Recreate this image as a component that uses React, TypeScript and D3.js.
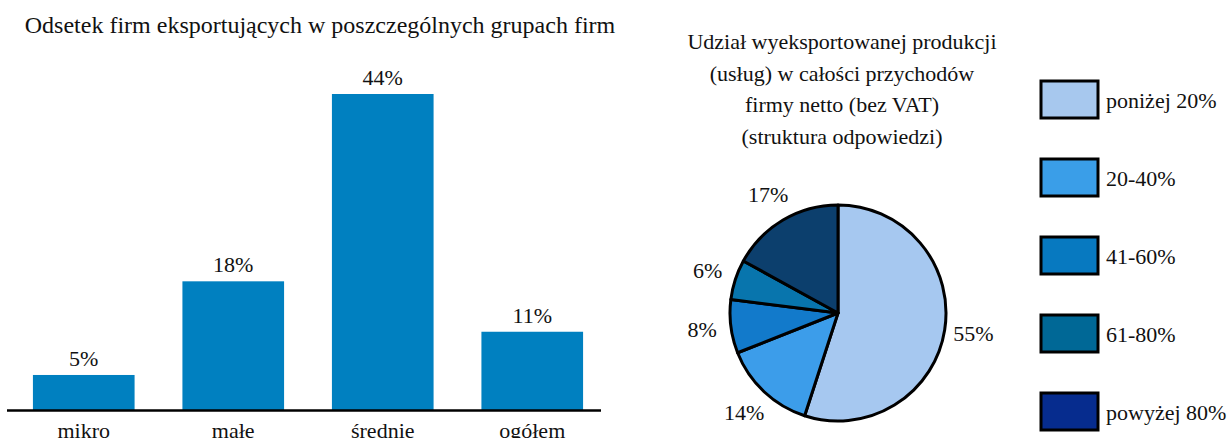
import React from "react";
import * as d3 from "d3";

const barCategories = ["mikro", "małe", "średnie", "ogółem"];
const barValues = [5, 18, 44, 11];
const barTitle = "Odsetek firm eksportujących w poszczególnych grupach firm";

const pieLabels = ["poniżej 20%", "20-40%", "41-60%", "61-80%", "powyżej 80%"];
const pieValues = [55, 14, 8, 6, 17];
const pieTitleLines = [
  "Udział wyeksportowanej produkcji",
  "(usług) w całości przychodów",
  "firmy netto (bez VAT)",
  "(struktura odpowiedzi)",
];

const pieColors = ["#A6C8F0", "#3C9DEA", "#127ACB", "#0875AD", "#0C3F6D"];
const legendColors = ["#A7C8EE", "#3A9EE8", "#0779C0", "#006896", "#062C8E"];
const barColor = "#0080C0";
const font = "'Liberation Serif', 'Times New Roman', serif";

export default function App() {
  const W = 1228, H = 438;
  const x = d3.scaleBand<string>().domain(barCategories).range([9, 607]).paddingInner(0.32).paddingOuter(0.16);
  const y = d3.scaleLinear().domain([0, 44]).range([411, 94]);

  const cx = 838, cy = 313, r = 108;
  const pie = d3.pie<number>().sort(null).value((d) => d)(pieValues);
  const arc = d3.arc<d3.PieArcDatum<number>>().innerRadius(0).outerRadius(r);
  const labelArc = d3.arc<d3.PieArcDatum<number>>().innerRadius(137).outerRadius(137);

  return (
    <svg width={W} height={H} style={{ position: "absolute", left: 0, top: 0, background: "#fff" }} fontFamily={font}>
      <text x={320} y={33} textAnchor="middle" fontSize={24} fill="#111">{barTitle}</text>
      {barCategories.map((c, i) => (
        <g key={c}>
          <rect x={x(c)} y={y(barValues[i])} width={x.bandwidth()} height={y(0) - y(barValues[i])} fill={barColor} />
          <text x={x(c)! + x.bandwidth() / 2} y={y(barValues[i]) - 9} textAnchor="middle" fontSize={22} fill="#111">{barValues[i]}%</text>
          <text x={x(c)! + x.bandwidth() / 2} y={438} textAnchor="middle" fontSize={22} fill="#111">{c}</text>
        </g>
      ))}
      <line x1={7} x2={601} y1={410.5} y2={410.5} stroke="#000" strokeWidth={2.5} />

      {pieTitleLines.map((t, i) => (
        <text key={i} x={842} y={49 + i * 31.5} textAnchor="middle" fontSize={22} fill="#111">{t}</text>
      ))}
      <g transform={`translate(${cx},${cy})`}>
        {pie.map((p, i) => (
          <path key={i} d={arc(p)!} fill={pieColors[i]} stroke="#000" strokeWidth={3} strokeLinejoin="round" />
        ))}
        {pie.map((p, i) => {
          const [lx, ly] = labelArc.centroid(p);
          return (
            <text key={"l" + i} x={lx} y={ly + 7} textAnchor="middle" fontSize={22} fill="#111">{pieValues[i]}%</text>
          );
        })}
      </g>
      {pieLabels.map((l, i) => (
        <g key={l} transform={`translate(1040,${80 + i * 78})`}>
          <rect x={1} y={1} width={57} height={37} fill={legendColors[i]} stroke="#000" strokeWidth={3} />
          <text x={66} y={28} fontSize={22} fill="#111">{l}</text>
        </g>
      ))}
    </svg>
  );
}
